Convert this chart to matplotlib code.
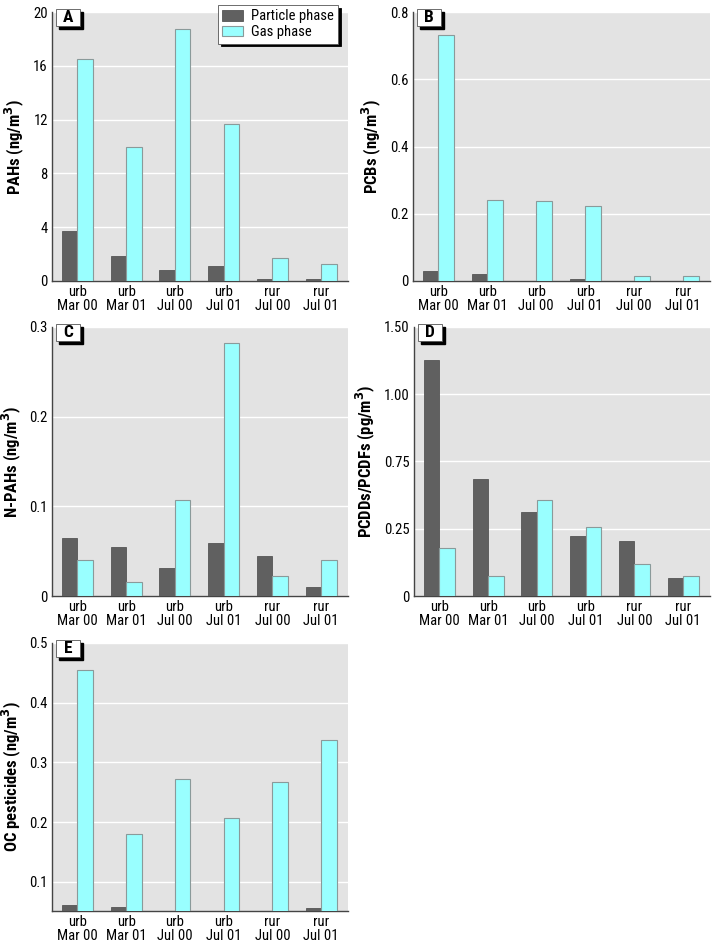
import numpy as np
import matplotlib.pyplot as plt
from matplotlib import font_manager
from matplotlib.patches import Rectangle

# pick a condensed face if one is installed, else Liberation Sans
installed = {f.name for f in font_manager.fontManager.ttflist}
narrow = [n for n in ["Liberation Sans Narrow", "Arial Narrow", "Roboto Condensed",
                      "Open Sans Condensed", "DejaVu Sans Condensed"] if n in installed]
base_font = narrow[0] if narrow else "Liberation Sans"
plt.rcParams['font.family'] = [base_font, 'DejaVu Sans']

# Sample categories
sites = ["urb\nMar 00", "urb\nMar 01", "urb\nJul 00", "urb\nJul 01", "rur\nJul 00", "rur\nJul 01"]

# Panel A: PAHs (ng/m3)
pahs_particle = [3.72, 1.89, 0.82, 1.14, 0.15, 0.15]
pahs_gas = [16.5, 9.98, 18.73, 11.66, 1.74, 1.27]

# Panel B: PCBs (ng/m3)
pcbs_particle = [0.030, 0.021, 0.001, 0.005, 0.001, 0.001]
pcbs_gas = [0.731, 0.241, 0.239, 0.223, 0.016, 0.015]

# Panel C: N-PAHs (ng/m3)
npahs_particle = [0.065, 0.055, 0.031, 0.0587, 0.045, 0.0097]
npahs_gas = [0.0405, 0.0152, 0.107, 0.282, 0.022, 0.0405]

# Panel D: PCDDs/PCDFs (pg/m3) - values on the evenly spaced drawn axis
pcdd_particle = [1.318, 0.654, 0.467, 0.333, 0.307, 0.100]
pcdd_gas = [0.270, 0.112, 0.535, 0.383, 0.180, 0.113]
pcdd_ticks = [0, 0.375, 0.75, 1.125, 1.5]
pcdd_ticklabels = ["0", "0.25", "0.75", "1.00", "1.50"]

# Panel E: OC pesticides (ng/m3)
oc_particle = [0.061, 0.058, 0.0, 0.0, 0.0, 0.056]
oc_gas = [0.454, 0.180, 0.272, 0.207, 0.267, 0.338]

particle_color = "#606060"
gas_color = "#99ffff"
bg_color = "#e3e3e3"

W, H = 716, 943
fig = plt.figure(figsize=(W / 100, H / 100), dpi=100)


def make_axes(left, top, right, bottom):
    return fig.add_axes([left / W, 1 - bottom / H, (right - left) / W, (bottom - top) / H])


def draw_panel(ax, letter, particle, gas, ylim, ticks, ticklabels, ylabel):
    x = np.arange(len(sites))
    w = 0.32
    ax.set_facecolor(bg_color)
    ax.bar(x - w / 2, particle, w, color=particle_color, edgecolor="#555555", linewidth=0.6,
           label="Particle phase", zorder=3)
    ax.bar(x + w / 2, gas, w, color=gas_color, edgecolor="#8a9a9a", linewidth=0.8,
           label="Gas phase", zorder=3)
    ax.set_xlim(-0.52, 5.55)
    ax.set_ylim(*ylim)
    ax.set_yticks(ticks)
    ax.set_yticklabels(ticklabels, fontsize=10.5)
    ax.set_xticks(x)
    ax.set_xticklabels(sites, fontsize=10.5, linespacing=0.95)
    ax.tick_params(length=0, pad=3)
    ax.grid(axis="y", color="white", linewidth=1.0, zorder=1)
    ax.set_axisbelow(True)
    for s in ["top", "right"]:
        ax.spines[s].set_visible(False)
    for s in ["left", "bottom"]:
        ax.spines[s].set_color("#444444")
        ax.spines[s].set_linewidth(1.0)
    ax.set_ylabel(ylabel, fontsize=12, fontweight="bold", labelpad=5)
    # panel letter box with shadow
    bw, bh = 0.081, 0.063
    bx, by = 0.0135, 0.948
    ax.add_patch(Rectangle((bx + 0.010, by - 0.011), bw, bh, transform=ax.transAxes,
                           facecolor="black", edgecolor="black", zorder=5, clip_on=False))
    ax.add_patch(Rectangle((bx, by), bw, bh, transform=ax.transAxes, facecolor="white",
                           edgecolor="#555555", linewidth=0.6, zorder=6, clip_on=False))
    ax.text(bx + bw / 2, by + bh / 2, letter, transform=ax.transAxes, ha="center",
            va="center", fontsize=12.5, fontweight="bold", zorder=7)


axA = make_axes(52, 12, 348, 281)
draw_panel(axA, "A", pahs_particle, pahs_gas, (0, 20), [0, 4, 8, 12, 16, 20],
           ["0", "4", "8", "12", "16", "20"], "PAHs (ng/m$\\mathbf{^3}$)")
leg = axA.legend(loc="upper right", bbox_to_anchor=(0.966, 1.026), fontsize=10.5, frameon=True,
                 fancybox=False, shadow={"color": "black", "alpha": 1.0}, borderpad=0.3,
                 handlelength=1.4, handleheight=0.75, labelspacing=0.12, handletextpad=0.55,
                 borderaxespad=0)
leg.get_frame().set_edgecolor("#555555")
leg.get_frame().set_linewidth(0.6)
leg.set_zorder(10)

axB = make_axes(413, 12, 710, 281)
draw_panel(axB, "B", pcbs_particle, pcbs_gas, (0, 0.8), [0, 0.2, 0.4, 0.6, 0.8],
           ["0", "0.2", "0.4", "0.6", "0.8"], "PCBs (ng/m$\\mathbf{^3}$)")

axC = make_axes(52, 327, 348, 596)
draw_panel(axC, "C", npahs_particle, npahs_gas, (0, 0.3), [0, 0.1, 0.2, 0.3],
           ["0", "0.1", "0.2", "0.3"], "N-PAHs (ng/m$\\mathbf{^3}$)")

axD = make_axes(414, 327, 710, 596)
draw_panel(axD, "D", pcdd_particle, pcdd_gas, (0, 1.5), pcdd_ticks, pcdd_ticklabels,
           "PCDDs/PCDFs (pg/m$\\mathbf{^3}$)")

axE = make_axes(52, 643, 348, 911)
draw_panel(axE, "E", oc_particle, oc_gas, (0.051, 0.5), [0.1, 0.2, 0.3, 0.4, 0.5],
           ["0.1", "0.2", "0.3", "0.4", "0.5"], "OC pesticides (ng/m$\\mathbf{^3}$)")

fig.savefig("out.png", dpi=100)
